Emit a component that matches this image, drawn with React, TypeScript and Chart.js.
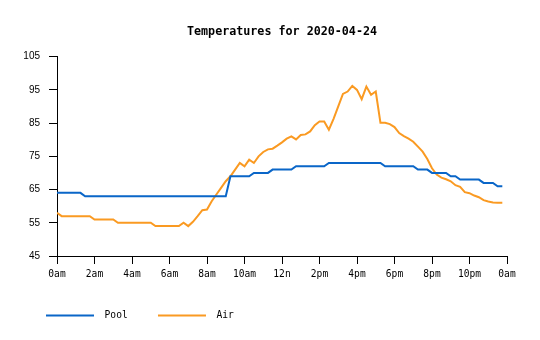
import { useEffect, useRef } from 'react';
import { Chart, registerables } from 'chart.js';

Chart.register(...registerables);

const chartTitle = 'Temperatures for 2020-04-24';
const seriesNames = ['Pool', 'Air'];
const seriesColors = ['#0a66c8', '#fa9a22'];
const sampleStepHours = 0.25;
const xTickLabels = ['0am', '2am', '4am', '6am', '8am', '10am', '12n', '2pm', '4pm', '6pm', '8pm', '10pm', '0am'];
const yMin = 45;
const yMax = 105;
const yStep = 10;

const poolTemps = [
  64, 64, 64, 64, 64, 64,
  63, 63, 63, 63, 63, 63, 63, 63, 63, 63, 63, 63, 63, 63, 63, 63, 63, 63, 63, 63, 63, 63, 63, 63, 63, 63, 63, 63, 63, 63, 63,
  69, 69, 69, 69, 69,
  70, 70, 70, 70,
  71, 71, 71, 71, 71,
  72, 72, 72, 72, 72, 72, 72,
  73, 73, 73, 73, 73, 73, 73, 73, 73, 73, 73, 73,
  72, 72, 72, 72, 72, 72, 72,
  71, 71, 71,
  70, 70, 70, 70,
  69, 69,
  68, 68, 68, 68, 68,
  67, 67, 67,
  66, 66,
];

const airTemps = [
  58, 57, 57, 57, 57, 57, 57, 57,
  56, 56, 56, 56, 56,
  55, 55, 55, 55, 55, 55, 55, 55,
  54, 54, 54, 54, 54, 54, 55, 54,
  55.3, 57, 58.8, 59, 61.5, 63.5, 65.5, 67.5,
  69, 71, 73, 72, 74, 73, 75, 76.3,
  77.1, 77.3, 78.2, 79.2, 80.3, 81, 80.1, 81.4,
  81.6, 82.5, 84.4, 85.5, 85.5, 83, 86.3, 90,
  93.8, 94.5, 96.2, 95, 92.2, 96, 93.5, 94.5,
  85.1, 85.1, 84.7, 83.8, 82, 81.1, 80.3, 79.4,
  77.9, 76.4, 74.2, 71.4, 69.5, 68.6, 68.1, 67.5,
  66.3, 65.8, 64.2, 63.9, 63.2, 62.7, 61.8, 61.4,
  61.1, 61, 61,
];

const monoFont = "'DejaVu Sans Mono', monospace";
const sansFont = "'Liberation Sans', Arial, sans-serif";

export default function App() {
  const canvasRef = useRef<HTMLCanvasElement | null>(null);

  useEffect(() => {
    document.body.style.margin = '0';
    const canvas = canvasRef.current;
    if (!canvas) return;

    const toPoints = (vals: number[]) => vals.map((v, i) => ({ x: i * sampleStepHours, y: v }));

    const chart = new Chart(canvas, {
      type: 'line',
      data: {
        datasets: [poolTemps, airTemps].map((vals, i) => ({
          label: ' ' + seriesNames[i],
          data: toPoints(vals),
          borderColor: seriesColors[i],
          backgroundColor: seriesColors[i],
          borderWidth: 2,
          pointRadius: 0,
          tension: 0,
          fill: false,
        })),
      },
      options: {
        responsive: false,
        animation: false,
        color: '#000',
        layout: { padding: { left: 15.7, right: 33, top: 0, bottom: 9.7 } },
        plugins: {
          title: {
            display: true,
            fullSize: false,
            text: chartTitle,
            color: '#000',
            font: { family: monoFont, size: 11.7, weight: 'bold' },
            padding: { top: 25, bottom: 17.6 },
          },
          legend: {
            position: 'bottom',
            align: 'start',
            labels: {
              usePointStyle: true,
              pointStyle: 'line',
              pointStyleWidth: 48,
              padding: 30.3,
              color: '#000',
              font: { family: monoFont, size: 9.6 },
            },
          },
          tooltip: { enabled: false },
        },
        scales: {
          x: {
            type: 'linear',
            min: 0,
            max: 24,
            offset: false,
            afterFit: (s: any) => { s.height = 24.4; },
            border: { display: true, color: '#000', width: 1 },
            grid: { drawOnChartArea: false, drawTicks: true, tickLength: 8, color: '#000' },
            ticks: {
              stepSize: 2,
              autoSkip: false,
              maxRotation: 0,
              padding: 5,
              color: '#000',
              font: { family: monoFont, size: 9.6 },
              callback: (v: any) => xTickLabels[Math.round(Number(v) / 2)],
            },
          },
          y: {
            min: yMin,
            max: yMax,
            afterFit: (s: any) => { s.width = 41.3; },
            border: { display: true, color: '#000', width: 1 },
            grid: { drawOnChartArea: false, drawTicks: true, tickLength: 8, color: '#000' },
            ticks: {
              stepSize: yStep,
              padding: 9,
              color: '#000',
              font: { family: sansFont, size: 10 },
            },
          },
        },
      },
    });

    return () => chart.destroy();
  }, []);

  return (
    <div style={{ position: 'absolute', left: 0, top: 0, width: 540, height: 340, background: '#fff' }}>
      <canvas ref={canvasRef} width={540} height={340} style={{ display: 'block' }} />
    </div>
  );
}
